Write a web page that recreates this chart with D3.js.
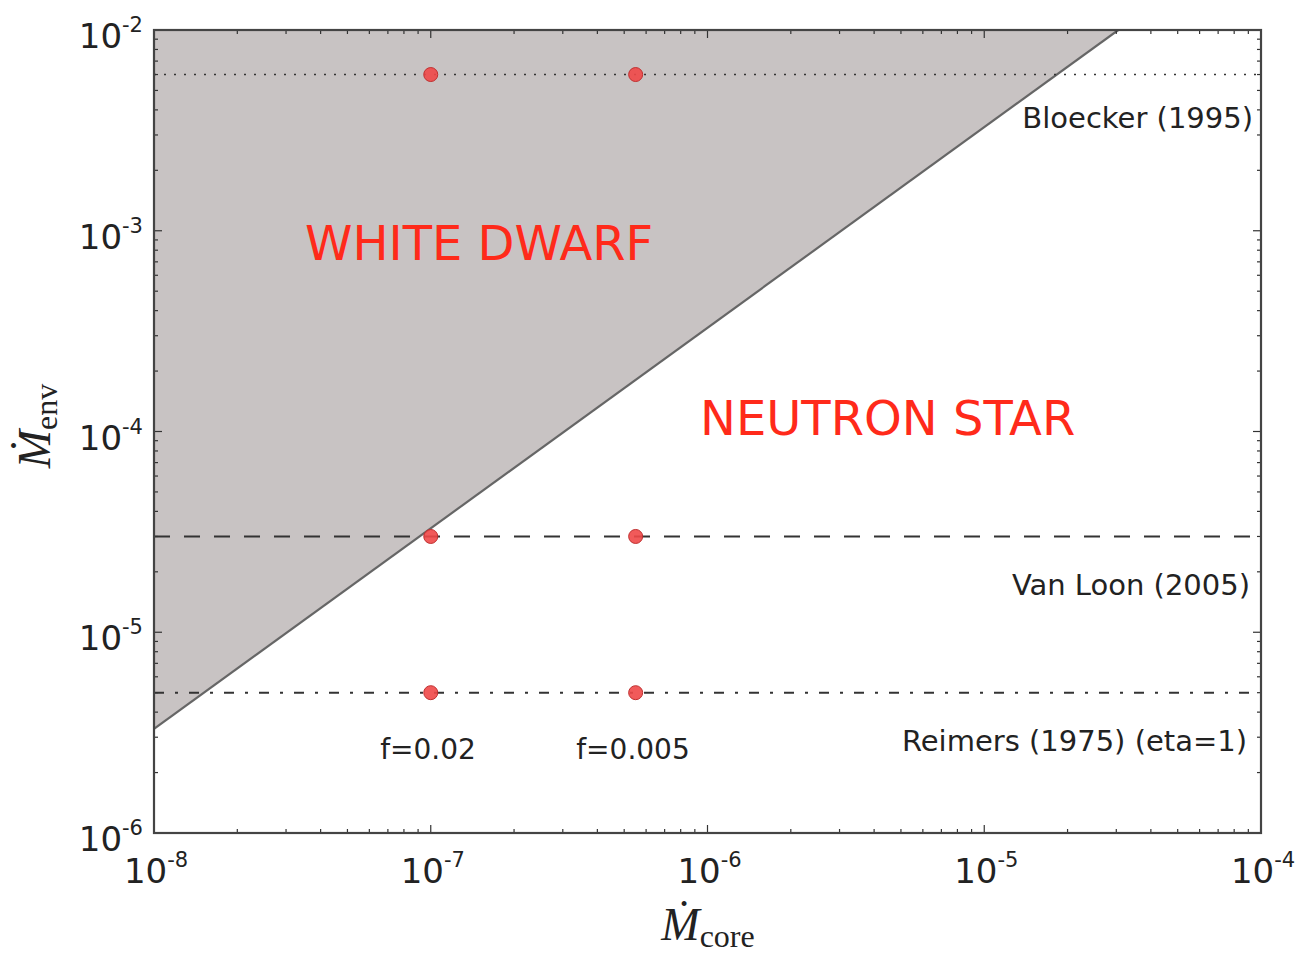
<!DOCTYPE html>
<html>
<head>
<meta charset="utf-8">
<script src="https://cdn.jsdelivr.net/npm/d3@7"></script>
<style>
  html, body { margin: 0; padding: 0; background: #fff; }
  svg { display: block; }
</style>
</head>
<body>
<svg id="chart" width="1297" height="953"></svg>
<script>
// Axis ranges (log10 exponents)
const xDecades = [-8, -7, -6, -5, -4];
const yDecades = [-6, -5, -4, -3, -2];

// Boundary between the white dwarf and neutron star regimes
const boundaryCore = [1e-8, 3.05e-5];
const boundaryEnv  = [3.3e-6, 1e-2];

// Envelope mass-loss prescriptions
const rateNames  = ["Bloecker (1995)", "Van Loon (2005)", "Reimers (1975) (eta=1)"];
const rateValues = [6e-3, 3e-5, 5e-6];
const rateDash   = ["2,8", "16,14", "10,11,3,11"];

// Core accretion rates for the two efficiency factors
const fLabels = ["f=0.02", "f=0.005"];
const fCore   = [1e-7, 5.5e-7];

const svg = d3.select("#chart");
const m = { left: 154, right: 1261, top: 30, bottom: 833 };
const x = d3.scaleLog().domain([1e-8, 1e-4]).range([m.left, m.right]);
const y = d3.scaleLog().domain([1e-6, 1e-2]).range([m.bottom, m.top]);

const font = "'DejaVu Sans', sans-serif";

// clip to axes
svg.append("clipPath").attr("id", "clip")
  .append("rect").attr("x", m.left).attr("y", m.top)
  .attr("width", m.right - m.left).attr("height", m.bottom - m.top);
const plot = svg.append("g").attr("clip-path", "url(#clip)");

// Shaded white dwarf region (above the boundary)
const bpts = boundaryCore.map((c, i) => [x(c), y(boundaryEnv[i])]);
plot.append("path")
  .attr("d", `M${bpts[0][0]},${bpts[0][1]} L${bpts[1][0]},${bpts[1][1]} L${m.left},${m.top} Z`)
  .attr("fill", "#c8c3c3");
plot.append("line")
  .attr("x1", bpts[0][0]).attr("y1", bpts[0][1])
  .attr("x2", bpts[1][0]).attr("y2", bpts[1][1])
  .attr("stroke", "#666").attr("stroke-width", 2.2);

// Horizontal mass-loss lines
rateValues.forEach((v, i) => {
  plot.append("line")
    .attr("x1", m.left).attr("x2", m.right)
    .attr("y1", y(v)).attr("y2", y(v))
    .attr("stroke", "#333").attr("stroke-width", i === 0 ? 1.6 : 2)
    .attr("stroke-dasharray", rateDash[i]);
});

// Points
rateValues.forEach(v => {
  fCore.forEach(c => {
    plot.append("circle")
      .attr("cx", x(c)).attr("cy", y(v)).attr("r", 7)
      .attr("fill", "#f04848").attr("fill-opacity", 0.9)
      .attr("stroke", "#c03030").attr("stroke-width", 1);
  });
});

// Ticks on all four sides (inward)
const tickG = svg.append("g").attr("stroke", "#333").attr("stroke-width", 1.2);
const minorMult = [2, 3, 4, 5, 6, 7, 8, 9];
xDecades.forEach((d, i) => {
  const vals = [{ v: Math.pow(10, d), L: 8 }];
  if (i < xDecades.length - 1) minorMult.forEach(k => vals.push({ v: k * Math.pow(10, d), L: 4 }));
  vals.forEach(t => {
    const px = x(t.v);
    tickG.append("line").attr("x1", px).attr("x2", px).attr("y1", m.bottom).attr("y2", m.bottom - t.L);
    tickG.append("line").attr("x1", px).attr("x2", px).attr("y1", m.top).attr("y2", m.top + t.L);
  });
});
yDecades.forEach((d, i) => {
  const vals = [{ v: Math.pow(10, d), L: 8 }];
  if (i < yDecades.length - 1) minorMult.forEach(k => vals.push({ v: k * Math.pow(10, d), L: 4 }));
  vals.forEach(t => {
    const py = y(t.v);
    tickG.append("line").attr("y1", py).attr("y2", py).attr("x1", m.left).attr("x2", m.left + t.L);
    tickG.append("line").attr("y1", py).attr("y2", py).attr("x1", m.right).attr("x2", m.right - t.L);
  });
});

// Frame
svg.append("rect")
  .attr("x", m.left).attr("y", m.top)
  .attr("width", m.right - m.left).attr("height", m.bottom - m.top)
  .attr("fill", "none").attr("stroke", "#444").attr("stroke-width", 2.2);

// Tick labels: 10^n
function powLabel(g, px, py, exp, anchor) {
  const t = g.append("text")
    .attr("x", px).attr("y", py)
    .attr("text-anchor", anchor)
    .attr("font-family", font).attr("fill", "#222");
  t.append("tspan").attr("font-size", 34).text("10");
  t.append("tspan").attr("font-size", 21).attr("dy", -16).text(String(exp));
  return t;
}
const labG = svg.append("g");
xDecades.forEach(d => powLabel(labG, x(Math.pow(10, d)) + 2, 883, d, "middle"));
yDecades.forEach(d => powLabel(labG, 143, y(Math.pow(10, d)) + 18, d, "end"));

// Axis titles (Ṁ with subscripts)
const xt = svg.append("text")
  .attr("x", 708).attr("y", 940).attr("text-anchor", "middle")
  .attr("font-family", "'Liberation Serif', serif").attr("fill", "#222");
xt.append("tspan").attr("font-size", 46).attr("font-style", "italic").text("M\u0307");
xt.append("tspan").attr("font-size", 32).attr("dy", 7).text("core");

const yt = svg.append("text")
  .attr("transform", "translate(50,426) rotate(-90)")
  .attr("text-anchor", "middle")
  .attr("font-family", "'Liberation Serif', serif").attr("fill", "#222");
yt.append("tspan").attr("font-size", 46).attr("font-style", "italic").text("M\u0307");
yt.append("tspan").attr("font-size", 32).attr("dy", 7).text("env");

// Region labels
svg.append("text").attr("x", 305).attr("y", 260)
  .attr("font-family", font).attr("font-size", 48).attr("fill", "#ff2a1a")
  .text("WHITE DWARF");
svg.append("text").attr("x", 700).attr("y", 435)
  .attr("font-family", font).attr("font-size", 48).attr("fill", "#ff2a1a")
  .text("NEUTRON STAR");

// Prescription labels
const rateLabelY = [128, 595, 751];
const rateLabelX = [1253, 1250, 1247];
rateNames.forEach((n, i) => {
  svg.append("text").attr("x", rateLabelX[i]).attr("y", rateLabelY[i])
    .attr("text-anchor", "end")
    .attr("font-family", font).attr("font-size", 29).attr("fill", "#222")
    .text(n);
});

// Efficiency labels
const fLabelX = [428, 633];
fLabels.forEach((n, i) => {
  svg.append("text").attr("x", fLabelX[i]).attr("y", 759)
    .attr("text-anchor", "middle")
    .attr("font-family", font).attr("font-size", 28).attr("fill", "#222")
    .text(n);
});
</script>
</body>
</html>
